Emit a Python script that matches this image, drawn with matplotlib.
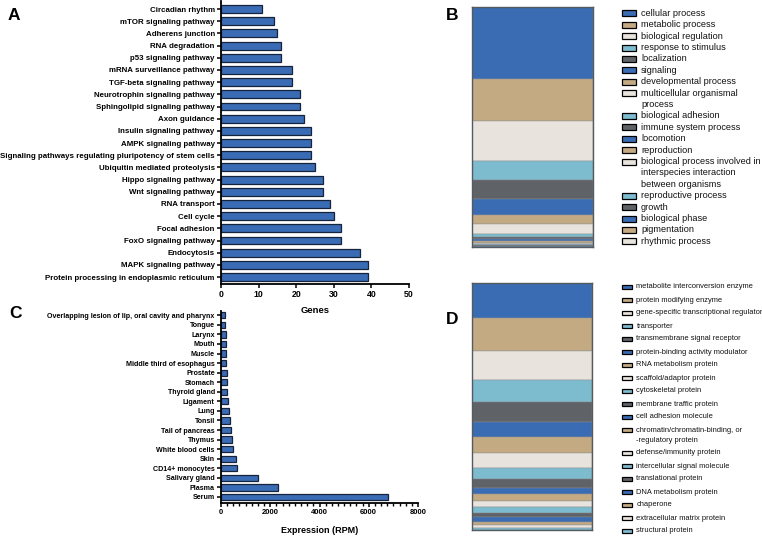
import numpy as np
import matplotlib.pyplot as plt
from matplotlib.patches import Rectangle
from matplotlib.ticker import MultipleLocator

plt.rcParams['font.family'] = ['Liberation Sans', 'DejaVu Sans']

# ---- data ----
kegg_terms = ['Circadian rhythm', 'mTOR signaling pathway', 'Adherens junction',
              'RNA degradation', 'p53 signaling pathway', 'mRNA surveillance pathway',
              'TGF-beta signaling pathway', 'Neurotrophin signaling pathway',
              'Sphingolipid signaling pathway', 'Axon guidance', 'Insulin signaling pathway',
              'AMPK signaling pathway',
              'Signaling pathways regulating pluripotency of stem cells',
              'Ubiquitin mediated proteolysis', 'Hippo signaling pathway',
              'Wnt signaling pathway', 'RNA transport', 'Cell cycle', 'Focal adhesion',
              'FoxO signaling pathway', 'Endocytosis', 'MAPK signaling pathway',
              'Protein processing in endoplasmic reticulum']
kegg_genes = [11, 14, 15, 16, 16, 19, 19, 21, 21, 22, 24, 24, 24, 25, 27, 27, 29, 30,
              32, 32, 37, 39, 39]

tissues = ['Overlapping lesion of lip, oral cavity and pharynx', 'Tongue', 'Larynx',
           'Mouth', 'Muscle', 'Middle third of esophagus', 'Prostate', 'Stomach',
           'Thyroid gland', 'Ligament', 'Lung', 'Tonsil', 'Tail of pancreas', 'Thymus',
           'White blood cells', 'Skin', 'CD14+ monocytes', 'Salivary gland', 'Plasma',
           'Serum']
rpm = [160, 180, 190, 200, 210, 220, 230, 240, 250, 270, 340, 365, 400, 430, 500, 595,
       635, 1490, 2300, 6770]

bp_terms = ['cellular process', 'metabolic process', 'biological regulation',
            'response to stimulus', 'localization', 'signaling', 'developmental process',
            'multicellular organismal\nprocess', 'biological adhesion',
            'immune system process', 'locomotion', 'reproduction',
            'biological process involved in\ninterspecies interaction\nbetween organisms',
            'reproductive process', 'growth', 'biological phase', 'pigmentation',
            'rhythmic process']
bp_counts = [73, 42, 40, 20, 19, 16, 9, 10, 3, 2.5, 2, 1.5, 1.5, 1, 0.8, 0.5, 0.3, 0.2]

pc_terms = ['metabolite interconversion enzyme', 'protein modifying enzyme',
            'gene-specific transcriptional regulator', 'transporter',
            'transmembrane signal receptor', 'protein-binding activity modulator',
            'RNA metabolism protein', 'scaffold/adaptor protein', 'cytoskeletal protein',
            'membrane traffic protein', 'cell adhesion molecule',
            'chromatin/chromatin-binding, or\n-regulatory protein',
            'defense/immunity protein', 'intercellular signal molecule',
            'translational protein', 'DNA metabolism protein', 'chaperone',
            'extracellular matrix protein', 'structural protein']
pc_counts = [35, 33, 29, 22, 19, 15, 16, 15, 11, 9, 6, 7, 6, 6, 4, 5, 3, 3, 2]

palette = ['#3a6cb4', '#c3aa83', '#e8e4dd', '#7dbbcf', '#5f6367']
bar_blue = '#3a6bb5'
bar_edge = '#16233b'

W, H = 762, 537
fig = plt.figure(figsize=(W / 100, H / 100), dpi=100)


def fx(x):
    return x / W


def fy(y):
    return 1 - y / H


def hbar_panel(rect, labels, values, fs):
    ax = fig.add_axes(rect)
    ax.patch.set_visible(False)
    y = np.arange(len(labels))
    ax.barh(y, values, height=0.65, color=bar_blue, edgecolor=bar_edge, linewidth=0.9)
    ax.set_yticks(y)
    ax.set_yticklabels(labels, fontsize=fs, fontweight='bold')
    for s in ['top', 'right']:
        ax.spines[s].set_visible(False)
    for s in ['left', 'bottom']:
        ax.spines[s].set_linewidth(1.3)
    ax.tick_params(length=3, width=1.1, pad=1.5)
    return ax


# panel A
axA = hbar_panel([fx(221), fy(284), fx(409) - fx(221), fy(1) - fy(284)],
                 kegg_terms, kegg_genes, 5.7)
axA.set_ylim(len(kegg_terms) - 1 + 0.57, -0.66)
axA.set_xlim(0, 50)
axA.set_xticks(np.arange(0, 51, 10))
axA.tick_params(axis='x', labelsize=6.3)
for t in axA.get_xticklabels():
    t.set_fontweight('bold')
axA.set_xlabel('Genes', fontsize=6.8, fontweight='bold', labelpad=5)

# panel C
axC = hbar_panel([fx(221), fy(503), fx(418) - fx(221), fy(311) - fy(503)],
                 tissues, rpm, 5.15)
axC.set_ylim(len(tissues) - 1 + 0.63, -0.45)
axC.set_xlim(0, 8000)
axC.set_xticks(np.arange(0, 8001, 2000))
axC.xaxis.set_minor_locator(MultipleLocator(250))
axC.tick_params(axis='x', which='minor', length=2, width=1)
axC.tick_params(axis='x', labelsize=5.5)
for t in axC.get_xticklabels():
    t.set_fontweight('bold')
axC.set_xlabel('Expression (RPM)', fontsize=6.5, fontweight='bold', labelpad=7)


def stack_panel(rect, counts):
    ax = fig.add_axes(rect)
    bottom = 0
    for i, c in enumerate(counts):
        ax.bar(0, c, bottom=bottom, width=1, color=palette[i % 5],
               edgecolor='#8a8d90', linewidth=0.3)
        bottom += c
    ax.set_xlim(-0.5, 0.5)
    ax.set_ylim(bottom, 0)
    ax.set_xticks([])
    ax.set_yticks([])
    for s in ax.spines.values():
        s.set_color('#555a5e')
        s.set_linewidth(1.0)
    return ax


stack_panel([fx(472), fy(247), fx(593) - fx(472), fy(7) - fy(247)], bp_counts)
stack_panel([fx(472), fy(530), fx(592) - fx(472), fy(283) - fy(530)], pc_counts)


def side_legend(labels, x_patch, w_patch, h_patch, x_text, y0, entry_step, line_step, fs):
    y = y0
    for i, lab in enumerate(labels):
        fig.add_artist(Rectangle((fx(x_patch), fy(y + h_patch / 2)),
                                 w_patch / W, h_patch / H, transform=fig.transFigure,
                                 facecolor=palette[i % 5], edgecolor='black', linewidth=0.9))
        lines = lab.split('\n')
        for k, ln in enumerate(lines):
            fig.text(fx(x_text), fy(y + k * line_step), ln, fontsize=fs,
                     va='center', ha='left', color='#111111')
        y += entry_step + (len(lines) - 1) * line_step


side_legend(bp_terms, 622, 14, 6, 641, 13.3, 11.4, 11.4, 6.6)
side_legend(pc_terms, 622, 10, 4.5, 636.5, 287, 13.0, 10.0, 5.4)

# panel letters
for letter, x, y in [('A', 14, 15), ('B', 452, 15), ('C', 16, 313), ('D', 452, 320)]:
    fig.text(fx(x), fy(y), letter, fontsize=12.5, fontweight='bold', va='center', ha='center')

plt.savefig('out.png', dpi=100)
